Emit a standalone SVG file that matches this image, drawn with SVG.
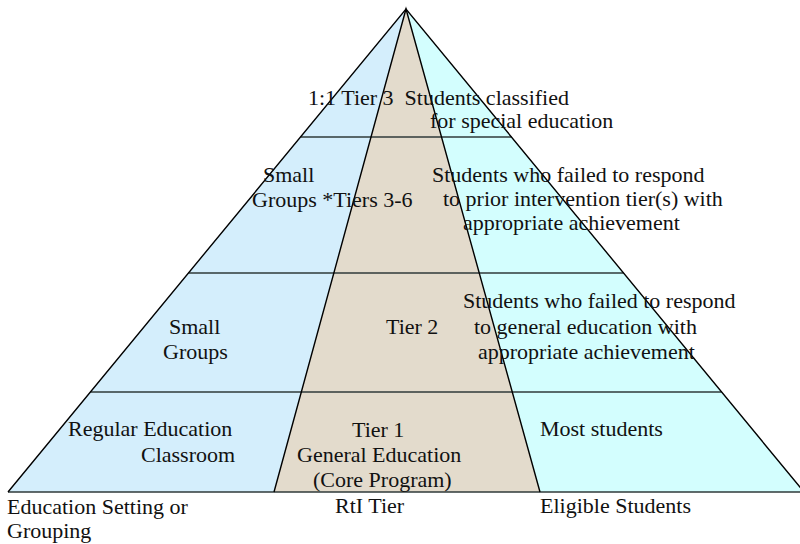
<svg xmlns="http://www.w3.org/2000/svg" width="800" height="544" viewBox="0 0 800 544">
  <style>
    .lbl { font-family: "Liberation Serif", "Times New Roman", serif; font-size: 22px; fill: #111; }
    .edge { stroke: #000; stroke-width: 1.4; fill: none; }
    .tier { stroke: #2f3a3a; stroke-width: 1.6; }
  </style>

  <!-- pyramid columns -->
  <g id="columns">
    <polygon id="setting-column" points="406,9 8,492 274,492" fill="#D4EEFC"/>
    <polygon id="rti-column" points="406,9 274,492 540,492" fill="#E3DBCC"/>
    <polygon id="students-column" points="406,9 540,492 804,492" fill="#D3FEFE"/>
  </g>

  <!-- tier dividers and outlines -->
  <g id="lines">
    <line class="tier" x1="300.5" y1="137" x2="511.5" y2="137"/>
    <line class="tier" x1="188.5" y1="273" x2="623.5" y2="273"/>
    <line class="tier" x1="90.4" y1="392" x2="721.6" y2="392"/>
    <line class="tier" x1="8" y1="492" x2="804" y2="492" stroke-width="2"/>
    <polyline class="edge" points="8,492 406,9 804,492"/>
    <polyline class="edge" points="274,492 406,9 540,492"/>
  </g>

  <!-- top tier -->
  <g id="tier-top">
    <text class="lbl" x="308" y="105" xml:space="preserve">1:1 Tier 3  Students classified</text>
    <text class="lbl" x="430" y="128">for special education</text>
  </g>

  <!-- tiers 3-6 -->
  <g id="tier-3-6">
    <text class="lbl" x="263" y="182">Small</text>
    <text class="lbl" x="252" y="207">Groups *Tiers 3-6</text>
    <text class="lbl" x="432" y="182">Students who failed to respond</text>
    <text class="lbl" x="443" y="206">to prior intervention tier(s) with</text>
    <text class="lbl" x="463" y="230">appropriate achievement</text>
  </g>

  <!-- tier 2 -->
  <g id="tier-2">
    <text class="lbl" x="169" y="334">Small</text>
    <text class="lbl" x="163" y="359">Groups</text>
    <text class="lbl" x="386" y="334">Tier 2</text>
    <text class="lbl" x="463" y="308">Students who failed to respond</text>
    <text class="lbl" x="474" y="334">to general education with</text>
    <text class="lbl" x="478" y="359">appropriate achievement</text>
  </g>

  <!-- tier 1 -->
  <g id="tier-1">
    <text class="lbl" x="68" y="436">Regular Education</text>
    <text class="lbl" x="141" y="462">Classroom</text>
    <text class="lbl" x="352" y="437">Tier 1</text>
    <text class="lbl" x="297" y="462">General Education</text>
    <text class="lbl" x="313" y="487">(Core Program)</text>
    <text class="lbl" x="540" y="436">Most students</text>
  </g>

  <!-- column captions -->
  <g id="captions">
    <text class="lbl" x="7" y="514">Education Setting or</text>
    <text class="lbl" x="7" y="538">Grouping</text>
    <text class="lbl" x="335" y="513">RtI Tier</text>
    <text class="lbl" x="540" y="513">Eligible Students</text>
  </g>
</svg>
